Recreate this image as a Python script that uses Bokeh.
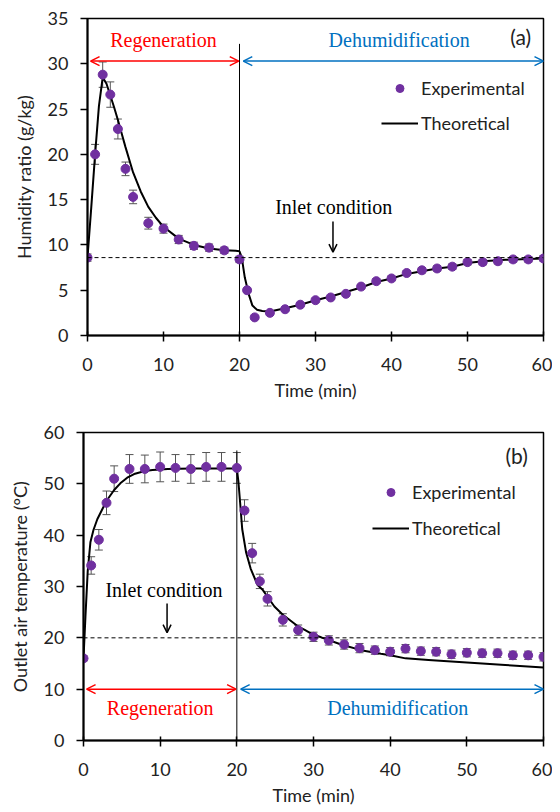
from bokeh.plotting import figure
from bokeh.models import (ColumnDataSource, Range1d, Whisker, TeeHead, Span, Label,
                          Arrow, OpenHead, Legend, LegendItem)
from bokeh.layouts import column
from bokeh.embed import file_html
from bokeh.resources import INLINE

# ---------------- data ----------------
# (a) humidity ratio
hum_t = [0, 1, 2, 3, 4, 5, 6, 8, 10, 12, 14, 16, 18, 20, 21, 22, 24, 26, 28, 30,
         32, 34, 36, 38, 40, 42, 44, 46, 48, 50, 52, 54, 56, 58, 60]
hum_exp = [8.6, 20.0, 28.8, 26.6, 22.8, 18.4, 15.3, 12.4, 11.8, 10.6, 9.9, 9.7, 9.4, 8.4,
           5.0, 2.0, 2.5, 2.9, 3.4, 3.9, 4.2, 4.6, 5.4, 6.0, 6.3, 6.9, 7.2, 7.4, 7.6,
           8.1, 8.1, 8.2, 8.4, 8.4, 8.5]
hum_err = [0.4, 1.1, 1.4, 1.4, 1.1, 0.75, 0.75, 0.65, 0.5, 0.45, 0.4, 0.4, 0.35, 0.35,
           0.2, 0.2, 0.2, 0.2, 0.2, 0.2, 0.2, 0.2, 0.25, 0.25, 0.25, 0.25, 0.3, 0.3, 0.3,
           0.3, 0.3, 0.3, 0.3, 0.3, 0.3]
hum_th_t = [0, 0.5, 1, 1.5, 2, 2.5, 3, 3.5, 4, 5, 6, 7, 8, 9, 10, 12, 14, 16, 18, 19.5, 20,
            20.3, 20.7, 21.2, 21.7, 22.3, 23, 24, 26, 28, 30, 32, 34, 36, 38, 40, 42, 44,
            46, 48, 50, 52, 55, 58, 60]
hum_th = [8.6, 14.2, 20.0, 25.3, 28.5, 27.8, 26.5, 25.2, 23.8, 20.8, 18.0, 15.9, 14.2, 13.0,
          12.0, 10.7, 10.0, 9.6, 9.4, 9.35, 9.3, 8.6, 6.4, 4.6, 3.3, 2.85, 2.7, 2.65, 3.0,
          3.4, 3.9, 4.3, 4.8, 5.3, 5.9, 6.3, 6.8, 7.1, 7.4, 7.6, 8.0, 8.2, 8.35, 8.45, 8.5]
hum_inlet = 8.6

# (b) outlet air temperature
tmp_t = [0, 1, 2, 3, 4, 6, 8, 10, 12, 14, 16, 18, 20, 21, 22, 23, 24, 26, 28, 30,
         32, 34, 36, 38, 40, 42, 44, 46, 48, 50, 52, 54, 56, 58, 60]
tmp_exp = [16.0, 34.1, 39.1, 46.3, 51.0, 52.9, 52.9, 53.3, 53.1, 52.9, 53.3, 53.3, 53.1,
           44.8, 36.5, 31.0, 27.6, 23.5, 21.5, 20.2, 19.5, 18.7, 18.0, 17.6, 17.3, 17.9,
           17.4, 17.3, 16.8, 17.1, 17.0, 17.0, 16.6, 16.6, 16.3]
tmp_err = [0.5, 1.7, 2.0, 2.3, 2.5, 2.8, 2.7, 2.9, 2.6, 2.8, 2.8, 2.8, 3.0,
           2.1, 1.9, 1.4, 1.4, 1.2, 1.0, 0.9, 0.9, 0.9, 0.9, 0.8, 0.8, 0.8, 0.8, 0.8,
           0.8, 0.8, 0.8, 0.8, 0.8, 0.8, 0.8]
tmp_th_t = [0, 0.25, 0.55, 0.9, 1.3, 1.8, 2.5, 3.1, 4, 4.8, 5.7, 6.6, 8, 9, 11, 14, 17, 20,
            20.2, 20.4, 20.7, 21.2, 21.8, 22.7, 23.4, 24, 24.9, 26, 26.6, 28, 28.8, 30, 31,
            33.6, 36.2, 38.8, 40, 42, 45, 50, 55, 60]
tmp_th = [16, 24, 33, 38.6, 41, 43.1, 45.2, 46.9, 48.8, 50.1, 51.2, 51.9, 52.5, 52.7, 52.9,
          53, 53, 53, 50.5, 46.9, 41.2, 36.7, 33.5, 30.3, 29.3, 28.0, 26.1, 24.5, 23.8,
          22.2, 21.6, 20.6, 20.1, 18.7, 17.6, 16.9, 16.6, 16.0, 15.7, 15.2, 14.7, 14.2]
tmp_inlet = 20

switch_t = 20
t_max = 60

SANS = "Lato"
SERIF = "Liberation Serif"
PURPLE = "#7030A0"
RED = "#FF0000"
BLUE = "#0070C0"
ERR = "#555555"


def make_fig(height, ymax, yticks, ylabel, border_left, border_top, border_bottom):
    p = figure(width=552, height=height, output_backend="svg", toolbar_location=None,
               x_range=Range1d(0, t_max), y_range=Range1d(0, ymax),
               min_border_left=border_left, min_border_right=9,
               min_border_top=border_top, min_border_bottom=border_bottom)
    p.xgrid.visible = False
    p.ygrid.visible = False
    p.outline_line_color = "black"
    p.outline_line_width = 1.5
    p.background_fill_color = "white"
    p.border_fill_color = "white"
    p.xaxis.ticker = list(range(0, t_max + 1, 10))
    p.yaxis.ticker = yticks
    for ax in (p.xaxis[0], p.yaxis[0]):
        ax.axis_line_width = 2
        ax.axis_line_color = "black"
        ax.major_tick_line_width = 1.5
        ax.major_tick_line_color = "black"
        ax.minor_tick_line_color = None
        ax.major_label_text_font = SANS
        ax.major_label_text_font_size = "18px"
        ax.major_label_text_color = "#222222"
        ax.axis_label_text_font = SANS
        ax.axis_label_text_font_size = "18px"
        ax.axis_label_text_font_style = "normal"
        ax.axis_label_text_color = "#222222"
    p.xaxis.major_tick_in = 4
    p.xaxis.major_tick_out = 6
    p.yaxis.major_tick_in = 0
    p.yaxis.major_tick_out = 7
    p.xaxis.major_label_standoff = 16
    p.yaxis.major_label_standoff = 12
    p.xaxis.axis_label = "Time (min)"
    p.yaxis.axis_label = ylabel
    p.xaxis.axis_label_standoff = 5
    p.yaxis.axis_label_standoff = 10
    return p


def draw(p, t, exp, err, th_t, th, inlet, vline_top, arrow_y, phase_label_y,
         inlet_txt, inlet_arrow, tag, tag_pos, legend_loc, legend_spacing):
    lo = [v - e for v, e in zip(exp, err)]
    hi = [v + e for v, e in zip(exp, err)]
    src = ColumnDataSource(dict(t=t, v=exp, lo=lo, hi=hi))
    p.add_layout(Span(location=inlet, dimension="width", line_color="black",
                      line_width=1, line_dash="4 3"))
    p.segment(x0=[switch_t], y0=[0], x1=[switch_t], y1=[vline_top],
              line_color="black", line_width=1)
    p.add_layout(Whisker(base="t", lower="lo", upper="hi", source=src,
                         line_color=ERR, line_width=1,
                         upper_head=TeeHead(size=8, line_color=ERR, line_width=1),
                         lower_head=TeeHead(size=8, line_color=ERR, line_width=1)))
    r_line = p.line(th_t, th, line_color="black", line_width=2)
    r_pts = p.scatter("t", "v", source=src, size=9, fill_color=PURPLE,
                      line_color=PURPLE)
    # phase arrows
    p.add_layout(Arrow(x_start=0.4, y_start=arrow_y, x_end=switch_t - 0.1, y_end=arrow_y,
                       line_color=RED, line_width=1.5,
                       start=OpenHead(size=9, line_color=RED, line_width=1.5),
                       end=OpenHead(size=9, line_color=RED, line_width=1.5)))
    p.add_layout(Arrow(x_start=switch_t + 0.5, y_start=arrow_y, x_end=t_max, y_end=arrow_y,
                       line_color=BLUE, line_width=1.5,
                       start=OpenHead(size=9, line_color=BLUE, line_width=1.5),
                       end=OpenHead(size=9, line_color=BLUE, line_width=1.5)))
    p.add_layout(Label(x=10, y=phase_label_y, text="Regeneration", text_font=SERIF,
                       text_font_size="20px", text_color=RED, text_align="center",
                       text_baseline="middle"))
    p.add_layout(Label(x=41, y=phase_label_y, text="Dehumidification", text_font=SERIF,
                       text_font_size="20px", text_color=BLUE, text_align="center",
                       text_baseline="middle"))
    p.add_layout(Label(x=inlet_txt[0], y=inlet_txt[1], text="Inlet condition",
                       text_font=SERIF, text_font_size="20px", text_color="black",
                       text_align="center", text_baseline="middle"))
    p.add_layout(Arrow(x_start=inlet_arrow[0], y_start=inlet_arrow[1],
                       x_end=inlet_arrow[0], y_end=inlet_arrow[2],
                       line_color="black", line_width=1.5,
                       end=OpenHead(size=8, line_color="black", line_width=1.5)))
    p.add_layout(Label(x=tag_pos[0], y=tag_pos[1], text=tag, text_font=SANS,
                       text_font_size="21px", text_color="#222222", text_align="center",
                       text_baseline="middle"))
    legend = Legend(items=[LegendItem(label="Experimental", renderers=[r_pts]),
                           LegendItem(label="Theoretical", renderers=[r_line])],
                    location=legend_loc, orientation="vertical",
                    glyph_width=37, glyph_height=20, label_height=20,
                    label_standoff=3, spacing=legend_spacing, padding=0, margin=0,
                    border_line_alpha=0, background_fill_alpha=0,
                    label_text_font=SANS, label_text_font_size="18px",
                    label_text_color="#222222")
    p.add_layout(legend)


p1 = make_fig(408, 35, list(range(0, 36, 5)), "Humidity ratio (g/kg)", 87, 18, 73)
draw(p1, hum_t, hum_exp, hum_err, hum_th_t, hum_th, hum_inlet, 32.2, 30.3, 32.6,
     (32.4, 14.2), (32.3, 12.6, 9.2), "(a)", (57, 33), (294, 201), 13)

p2 = make_fig(400, 60, list(range(0, 61, 10)), "Outlet air temperature (°C)", 83, 24, 64)
draw(p2, tmp_t, tmp_exp, tmp_err, tmp_th_t, tmp_th, tmp_inlet, 56.5, 10, 6.3,
     (10.5, 29.3), (10.9, 26.7, 21), "(b)", (56.5, 55.6), (289, 201), 14)

layout = column(column(p1), column(p2), spacing=0)
open("out.html", "w").write(file_html(layout, INLINE))
